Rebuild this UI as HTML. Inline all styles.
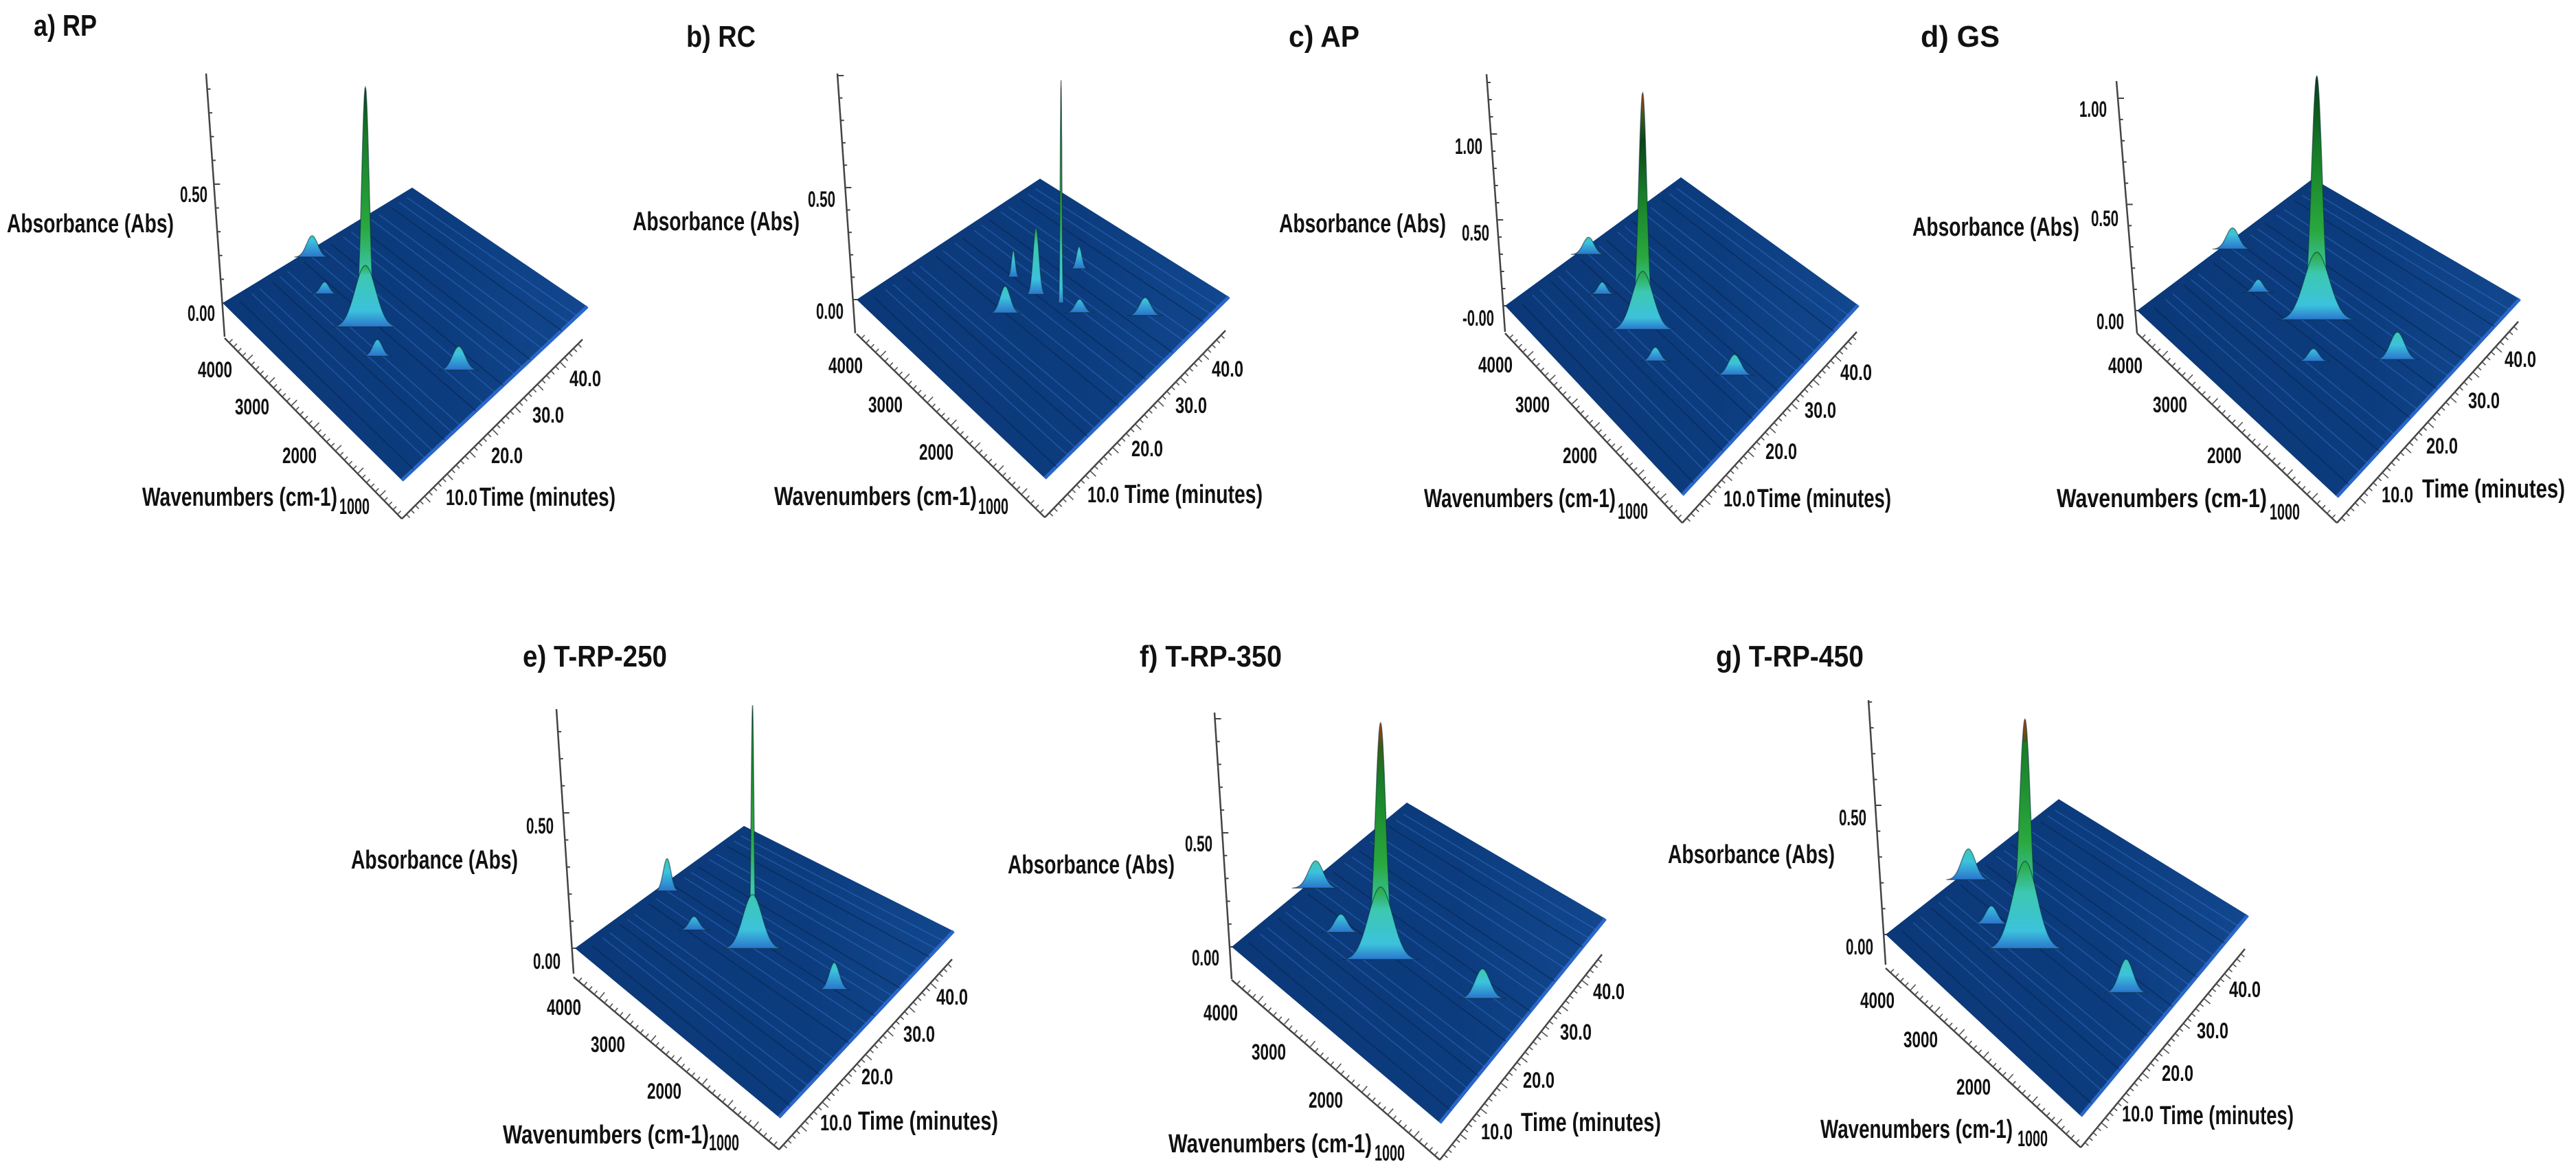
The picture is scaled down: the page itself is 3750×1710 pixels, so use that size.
<!DOCTYPE html>
<html>
<head>
<meta charset="utf-8">
<style>
html,body{margin:0;padding:0;background:#fff;}
svg{display:block;}
text{font-family:"Liberation Sans",sans-serif;fill:#111;}
</style>
</head>
<body>
<svg id="fig" xmlns="http://www.w3.org/2000/svg" width="3750" height="1710" viewBox="0 0 3750 1710">
<defs id="defs"></defs>
</svg>
<script>
// ---------- data (wavenumber cm-1, time min, absorbance, peak width cm-1) ----------
const wnTickLabels = ['4000','3000','2000'];
const timeTickLabels = ['10.0','20.0','30.0','40.0'];
const streakTimes = [3,6,8,11,13,15,19,21,24,26,29,31,33,36,38,41,43,45];

const peakWn_a = [2800, 2800, 4250, 3625, 2312, 1300];
const peakT_a = [17.1, 17.1, 21, 16.7, 14.3, 22.8];
const peakAbs_a = [1.01, 0.26, 0.09, 0.05, 0.07, 0.10];
const peakWidth_a = [190, 520, 280, 220, 240, 320];

const peakWn_b = [2425, 2800, 3250, 2875, 2687, 2125, 1375];
const peakT_b = [27.6, 26, 26, 19, 35.7, 28.5, 35.7];
const peakAbs_b = [1.0, 0.30, 0.12, 0.12, 0.10, 0.06, 0.08];
const peakWidth_b = [40, 140, 90, 240, 130, 220, 270];

const peakWn_c = [2800, 2800, 4250, 3625, 2312, 1300];
const peakT_c = [17.1, 17.1, 21, 16.7, 14.3, 22.8];
const peakAbs_c = [1.38, 0.34, 0.10, 0.07, 0.08, 0.12];
const peakWidth_c = [210, 520, 280, 220, 240, 320];

const peakWn_d = [2612, 2612, 4250, 3500, 2200, 1350];
const peakT_d = [22.8, 22.8, 24, 20, 16, 26];
const peakAbs_d = [1.15, 0.32, 0.10, 0.06, 0.06, 0.13];
const peakWidth_d = [240, 560, 280, 220, 240, 320];

const peakWn_e = [2687, 2687, 4250, 3500, 1350];
const peakT_e = [23.8, 23.8, 24, 20, 26];
const peakAbs_e = [0.90, 0.20, 0.12, 0.05, 0.10];
const peakWidth_e = [60, 420, 170, 220, 220];

const peakWn_f = [2800, 2800, 4250, 3500, 1300];
const peakT_f = [17.1, 17.1, 21, 16.7, 22.8];
const peakAbs_f = [1.04, 0.32, 0.12, 0.08, 0.13];
const peakWidth_f = [230, 520, 320, 270, 320];

const peakWn_g = [2875, 2875, 4250, 3500, 1300];
const peakT_g = [17.1, 17.1, 21, 16.7, 22.8];
const peakAbs_g = [0.89, 0.34, 0.12, 0.07, 0.13];
const peakWidth_g = [260, 560, 320, 270, 320];

// ---------- layout ----------
const panels = [
 {id:'a', title:'a) RP', tx:49, ty:52, tw:92, hot:false, wn:peakWn_a, t:peakT_a, ab:peakAbs_a, pw:peakWidth_a,
  L:[324,441],B:[585,699],R:[855,446],T:[600,273], zs:346, vA:[[300,107],[327,490]], wA:[[327,492],[585,755]], tE:[848,494],
  zT:[['0.50',282,283,40],['0.00',293,456,40]], wT:[[313,538],[367,592],[436,663]], tT:[[672,724],[738,663],[798,604],[852,551]],
  abs:[10,253,326], wave:[207,491,724], sub:[516,737], time:[698,896,724]},
 {id:'b', title:'b) RC', tx:999, ty:68, tw:101, hot:true, wn:peakWn_b, t:peakT_b, ab:peakAbs_b, pw:peakWidth_b,
  L:[1247,436],B:[1521,696],R:[1789,432],T:[1514,260], zs:326, vA:[[1219,107],[1245,485]], wA:[[1247,486],[1521,753]], tE:[1784,481],
  zT:[['0.50',1196,290,40],['0.00',1208,453,40]], wT:[[1231,532],[1289,589],[1363,658]], tT:[[1606,720],[1670,653],[1734,590],[1787,537]],
  abs:[921,1164,323], wave:[1127,1422,723], sub:[1446,737], time:[1637,1838,720]},
 {id:'c', title:'c)  AP', tx:1876, ty:68, tw:103, hot:true, wn:peakWn_c, t:peakT_c, ab:peakAbs_c, pw:peakWidth_c,
  L:[2191,445],B:[2449,720],R:[2705,444],T:[2447,258], zs:250, vA:[[2164,108],[2191,483]], wA:[[2191,485],[2449,761]], tE:[2703,483],
  zT:[['1.00',2138,213,40],['0.50',2148,339,40],['-0.00',2152,463,46]], wT:[[2177,531],[2231,589],[2300,663]], tT:[[2532,726],[2593,657],[2650,597],[2702,542]],
  abs:[1862,2105,326], wave:[2073,2352,726], sub:[2377,744], time:[2558,2753,726]},
 {id:'d', title:'d) GS', tx:2796, ty:68, tw:115, hot:false, wn:peakWn_d, t:peakT_d, ab:peakAbs_d, pw:peakWidth_d,
  L:[3111,452],B:[3402,723],R:[3668,435],T:[3367,260], zs:309, vA:[[3081,118],[3111,485]], wA:[[3111,485],[3402,761]], tE:[3666,468],
  zT:[['1.00',3047,159,40],['0.50',3064,318,40],['0.00',3072,468,40]], wT:[[3094,532],[3159,589],[3238,663]], tT:[[3490,720],[3555,649],[3616,583],[3669,523]],
  abs:[2784,3027,331], wave:[2994,3300,726], sub:[3326,745], time:[3526,3734,712]},
 {id:'e', title:'e) T-RP-250', tx:761, ty:970, tw:210, hot:false, wn:peakWn_e, t:peakT_e, ab:peakAbs_e, pw:peakWidth_e,
  L:[837,1380],B:[1134,1626],R:[1388,1355],T:[1083,1202], zs:394, vA:[[810,1032],[835,1417]], wA:[[835,1422],[1134,1673]], tE:[1386,1396],
  zT:[['0.50',786,1202,40],['0.00',796,1399,40]], wT:[[821,1466],[885,1520],[967,1588]], tT:[[1217,1634],[1277,1567],[1338,1505],[1386,1451]],
  abs:[511,754,1252], wave:[732,1032,1652], sub:[1054,1663], time:[1249,1453,1632]},
 {id:'f', title:'f) T-RP-350', tx:1659, ty:970, tw:207, hot:true, wn:peakWn_f, t:peakT_f, ab:peakAbs_f, pw:peakWidth_f,
  L:[1793,1378],B:[2096,1634],R:[2337,1337],T:[2048,1168], zs:332, vA:[[1768,1037],[1793,1425]], wA:[[1793,1426],[2096,1688]], tE:[2332,1389],
  zT:[['0.50',1745,1228,40],['0.00',1755,1394,40]], wT:[[1777,1474],[1847,1531],[1930,1601]], tT:[[2179,1647],[2240,1572],[2294,1502],[2342,1443]],
  abs:[1467,1710,1259], wave:[1701,1997,1665], sub:[2023,1678], time:[2214,2418,1634]},
 {id:'g', title:'g) T-RP-450', tx:2498, ty:970, tw:215, hot:true, wn:peakWn_g, t:peakT_g, ab:peakAbs_g, pw:peakWidth_g,
  L:[2745,1360],B:[3029,1624],R:[3272,1332],T:[2997,1163], zs:376, vA:[[2720,1019],[2745,1404]], wA:[[2745,1409],[3029,1670]], tE:[3268,1381],
  zT:[['0.50',2697,1190,40],['0.00',2707,1378,40]], wT:[[2733,1456],[2796,1513],[2873,1582]], tT:[[3112,1621],[3170,1562],[3221,1500],[3268,1440]],
  abs:[2428,2671,1244], wave:[2650,2930,1644], sub:[2959,1657], time:[3144,3339,1624]}
];

const NS = 'http://www.w3.org/2000/svg';
const svg = document.getElementById('fig');
const defs = document.getElementById('defs');
function mk(tag, attrs, parent){
  const e = document.createElementNS(NS, tag);
  for (const k in attrs) e.setAttribute(k, attrs[k]);
  (parent||svg).appendChild(e);
  return e;
}
// axis functions
function wnToU(wn){ return 0.1 + (4000 - wn) / 3750; }
function tToV(t){ return t / 47.6; }
function project(p, u, v){
  const a=(1-u)*(1-v), b=u*(1-v), c=u*v, d=(1-u)*v;
  return [a*p.L[0]+b*p.B[0]+c*p.R[0]+d*p.T[0], a*p.L[1]+b*p.B[1]+c*p.R[1]+d*p.T[1]];
}
function absToPx(p, abs){ return abs * p.zs; }

const levels = [[0,'#2a74cc'],[0.07,'#3cc2dc'],[0.22,'#3cc8b0'],[0.42,'#2aa83e'],[0.8,'#177c27'],[1.1,'#0a4418'],[1.6,'#062a10']];
function colorAt(abs){
  for (let i=1;i<levels.length;i++){ if (abs<=levels[i][0]) return levels[i][1]; }
  return levels[levels.length-1][1];
}

let gid = 0;
function txt(g, s, x, y, size, len, extra){
  const t = mk('text', Object.assign({x:x, y:y, 'font-size':size, 'font-weight':'bold', 'dominant-baseline':'central', textLength:len, lengthAdjust:'spacingAndGlyphs'}, extra||{}), g);
  t.textContent = s;
  return t;
}

panels.forEach(p => {
  const g = mk('g', {});
  
  

  const tt = mk('text', {x:p.tx, y:p.ty, 'font-size':44, 'font-weight':'bold', textLength:p.tw, lengthAdjust:'spacingAndGlyphs'}, g);
  tt.textContent = p.title;
  
  

  const va = mk('line', {x1:p.vA[0][0], y1:p.vA[0][1], x2:p.vA[1][0], y2:p.vA[1][1], stroke:'#444', 'stroke-width':2.5}, g);
  
  
  const zMax = (p.L[1] - p.vA[0][1]) / p.zs;
  for (let k = 0; k * 0.1 <= zMax + 1e-6; k++){
    const y = p.L[1] - absToPx(p, k * 0.1);
    const f = (y - p.vA[0][1]) / (p.vA[1][1] - p.vA[0][1]);
    const x = p.vA[0][0] + f * (p.vA[1][0] - p.vA[0][0]);
    const tk = mk('line', {x1:x, y1:y, x2:x + (k % 5 === 0 ? 9 : 5), y2:y, stroke:'#444', 'stroke-width':2}, g);
    
    
  }
  p.zT.forEach(z => {
    const e = txt(g, z[0], z[1], z[2], 32, z[3], {'text-anchor':'middle'});
    
    
  });

  function tickAxis(a, b, n, name){
    const ln = mk('line', {x1:a[0], y1:a[1], x2:b[0], y2:b[1], stroke:'#444', 'stroke-width':2.5}, g);
    
    
    const dx = b[0]-a[0], dy = b[1]-a[1], len = Math.hypot(dx, dy);
    const sgn = (name==='wavenumber-axis-line') ? -1 : 1;
    const nx = -dy/len, ny = dx/len;
    for (let i = 1; i < n; i++){
      const x = a[0] + dx*i/n, y = a[1] + dy*i/n, l = (i % 5 === 0) ? 12 : 7;
      const tk = mk('line', {x1:x, y1:y, x2:x + nx*l*sgn, y2:y + ny*l*sgn, stroke:'#555', 'stroke-width':1.6}, g);
      
      
    }
  }
  tickAxis(p.wA[0], p.wA[1], 40, 'wavenumber-axis-line');
  tickAxis(p.wA[1], p.tE, 40, 'time-axis-line');

  p.wT.forEach((w, i) => {
    const e = txt(g, wnTickLabels[i], w[0], w[1], 32, 50, {'text-anchor':'middle'});
    
    
  });
  p.tT.forEach((w, i) => {
    const e = txt(g, timeTickLabels[i], w[0], w[1], 32, 46, {'text-anchor':'middle'});
    
    
  });

  let e = txt(g, 'Absorbance (Abs)', p.abs[0], p.abs[2], 38, p.abs[1]-p.abs[0]);
  
  
  e = txt(g, 'Wavenumbers (cm-1)', p.wave[0], p.wave[2], 38, p.wave[1]-p.wave[0]);
  
  
  e = txt(g, '1000', p.sub[0], p.sub[1], 32, 44, {'text-anchor':'middle'});
  
  
  e = txt(g, 'Time (minutes)', p.time[0], p.time[2], 38, p.time[1]-p.time[0]);
  
  

  const gradId = 'pl' + p.id;
  const lg = mk('linearGradient', {id:gradId, x1:p.L[0], y1:0, x2:p.R[0], y2:0, gradientUnits:'userSpaceOnUse'}, defs);
  mk('stop', {offset:0, 'stop-color':'#0b3878'}, lg);
  mk('stop', {offset:0.6, 'stop-color':'#0c3c7e'}, lg);
  mk('stop', {offset:1, 'stop-color':'#12478e'}, lg);
  const pts = [p.L, p.T, p.R, p.B].map(q => q.join(',')).join(' ');
  const plane = mk('polygon', {points:pts, fill:'url(#' + gradId + ')'}, g);
  
  
  const edge = mk('line', {x1:p.B[0], y1:p.B[1], x2:p.R[0], y2:p.R[1], stroke:'#2a66c8', 'stroke-width':5}, g);
  
  

  streakTimes.forEach((st, i) => {
    const v = tToV(st);
    const a = project(p, 0.03, v), b = project(p, 1, v);
    const s = mk('line', {x1:a[0], y1:a[1], x2:b[0], y2:b[1], stroke: i % 3 === 0 ? '#06244f' : '#3a7ed6', 'stroke-width':1.6, opacity: i % 3 === 0 ? 0.6 : 0.4}, g);
    
    
  });

  const order = p.wn.map((w, i) => i).sort((i, j) => {
    const a = project(p, wnToU(p.wn[i]), tToV(p.t[i])), b = project(p, wnToU(p.wn[j]), tToV(p.t[j]));
    return (a[1] - b[1]) || (p.ab[j] - p.ab[i]);
  });
  const dxdu = Math.abs(p.B[0] - p.L[0]);
  order.forEach(i => {
    const base = project(p, wnToU(p.wn[i]), tToV(p.t[i]));
    const h = absToPx(p, p.ab[i]);
    const sig = p.pw[i] * dxdu / 3750 / 2.4;
    let d = '';
    for (let s = -3.2; s <= 3.201; s += 0.1){
      const x = base[0] + s * sig, y = base[1] - h * Math.exp(-s*s/2);
      d += (d ? 'L' : 'M') + x.toFixed(1) + ',' + y.toFixed(1);
    }
    d += 'Z';
    const id = 'pk' + p.id + (gid++);
    const gr = mk('linearGradient', {id:id, x1:0, y1:base[1], x2:0, y2:base[1]-h, gradientUnits:'userSpaceOnUse'}, defs);
    levels.forEach(l => { if (l[0] <= p.ab[i]) mk('stop', {offset:(l[0]/p.ab[i]).toFixed(3), 'stop-color':l[1]}, gr); });
    if (p.hot && p.ab[i] > 0.5){
      mk('stop', {offset:0.9, 'stop-color':'#3a5a18'}, gr);
      mk('stop', {offset:1, 'stop-color':'#b83a14'}, gr);
    } else {
      mk('stop', {offset:1, 'stop-color':colorAt(p.ab[i])}, gr);
    }
    const pk = mk('path', {d:d, fill:'url(#' + id + ')', stroke:'#0a2a3a', 'stroke-width':1.4, 'stroke-opacity':0.55}, g);
    
    
  });
});
</script>
</body>
</html>
